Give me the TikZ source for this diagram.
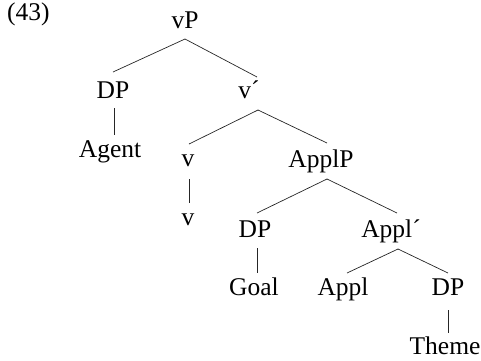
\documentclass[tikz,border=0pt]{standalone}
\usepackage{fontspec}
\setmainfont{Liberation Serif}
\begin{document}
\begin{tikzpicture}[x=1pt,y=-1pt,
  lab/.style={anchor=base,inner sep=0pt,font=\fontsize{25.5}{29}\selectfont},
  edge/.style={line width=0.7pt,color=black!85}]
\useasboundingbox (0,0) rectangle (481,360);
\node[lab,anchor=base west] (num) at (7,20) {(43)};
\node[lab] (vP) at (185,28) {vP};
\node[lab] (dp1) at (113,98) {DP};
\node[lab] (vbar) at (249,98) {v´};
\node[lab] (agent) at (110,157) {Agent};
\node[lab] (v1) at (188,166) {v};
\node[lab] (applP) at (321,167) {ApplP};
\node[lab] (v2) at (188,225) {v};
\node[lab] (dp2) at (255,237) {DP};
\node[lab] (applbar) at (391,237) {Appl´};
\node[lab] (goal) at (254,295) {Goal};
\node[lab] (appl) at (343,295) {Appl};
\node[lab] (dp3) at (448,295) {DP};
\node[lab] (theme) at (445,354) {Theme};
% connectors
\draw[edge] ([shift={(0,11)}]vP.base) -- ([shift={(0,-26)}]dp1.base);
\draw[edge] ([shift={(0,11)}]vP.base) -- ([shift={(8,-21)}]vbar.base);
\draw[edge] ([shift={(1,10)}]dp1.base) -- ([shift={(4,-22)}]agent.base);
\draw[edge] ([shift={(9,12)}]vbar.base) -- ([shift={(1,-22)}]v1.base);
\draw[edge] ([shift={(9,12)}]vbar.base) -- ([shift={(6,-24)}]applP.base);
\draw[edge] ([shift={(1,13)}]v1.base) -- ([shift={(1,-22)}]v2.base);
\draw[edge] ([shift={(6,12)}]applP.base) -- ([shift={(2,-24)}]dp2.base);
\draw[edge] ([shift={(6,12)}]applP.base) -- ([shift={(6,-24)}]applbar.base);
\draw[edge] ([shift={(2,11)}]dp2.base) -- ([shift={(3,-22)}]goal.base);
\draw[edge] ([shift={(7,12)}]applbar.base) -- ([shift={(4,-22)}]appl.base);
\draw[edge] ([shift={(7,12)}]applbar.base) -- ([shift={(0,-22)}]dp3.base);
\draw[edge] ([shift={(0,15)}]dp3.base) -- ([shift={(3,-21)}]theme.base);
\end{tikzpicture}
\end{document}
